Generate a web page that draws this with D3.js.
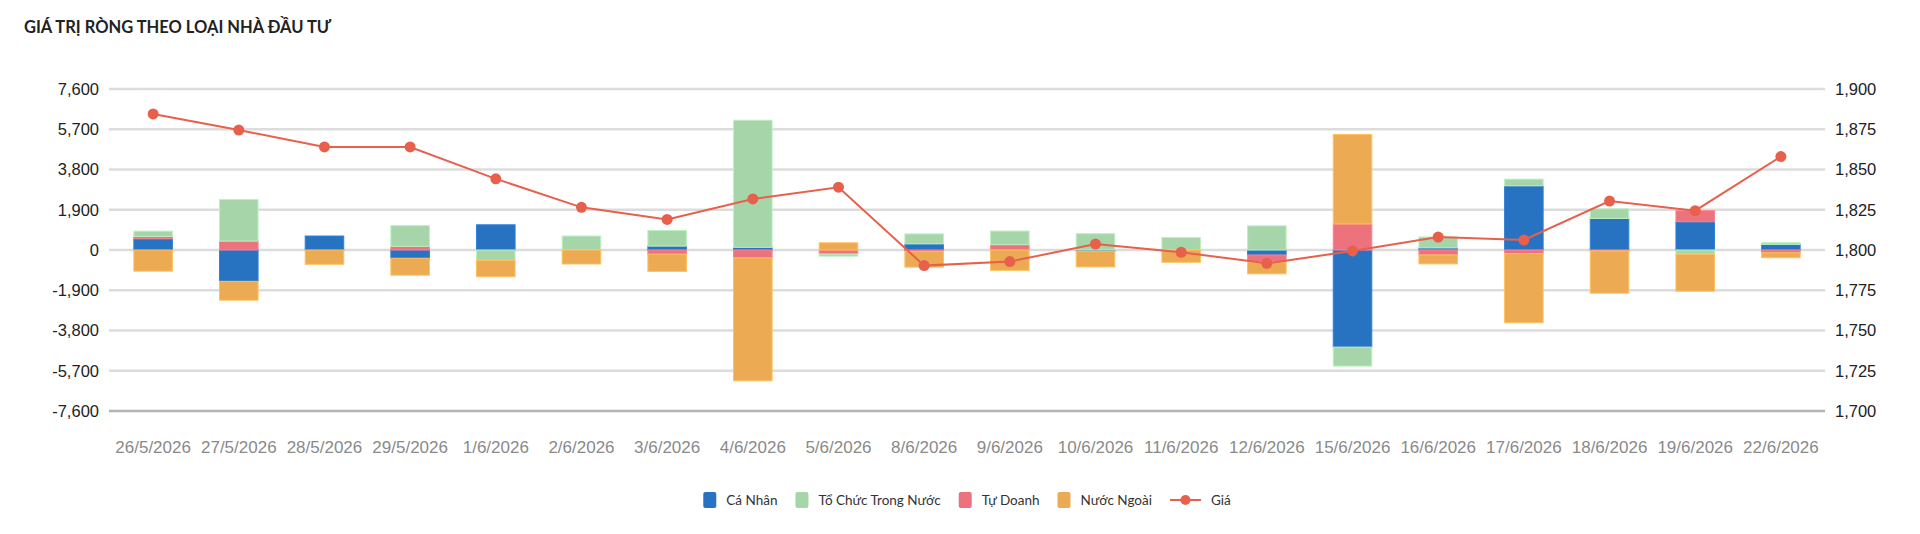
<!DOCTYPE html>
<html>
<head>
<meta charset="utf-8">
<script src="https://cdn.jsdelivr.net/npm/d3@7"></script>
<style>
  html, body { margin: 0; padding: 0; background: #fff; }
  svg { display: block; }
</style>
</head>
<body>
<svg id="chart" width="1920" height="534"></svg>
<script>
const dates = ["26/5/2026","27/5/2026","28/5/2026","29/5/2026","1/6/2026","2/6/2026","3/6/2026","4/6/2026","5/6/2026","8/6/2026","9/6/2026","10/6/2026","11/6/2026","12/6/2026","15/6/2026","16/6/2026","17/6/2026","18/6/2026","19/6/2026","22/6/2026"];
const caNhan    = [530, -1480, 660, -390, 1190, 0, 185, 125, 0, 290, 0, -60, 0, -235, -4585, 100, 3030, 1490, 1335, 265];
const toChuc    = [250, 1965, 0, 975, -490, 660, 735, 6000, -100, 470, 645, 770, 590, 1140, -895, 515, 315, 455, -200, 80];
const tuDoanh   = [110, 420, 0, 175, 0, 0, -200, -375, -190, -70, 250, 0, 0, -330, 1230, -235, -170, -45, 520, -130];
const nuocNgoai = [-1000, -890, -675, -800, -770, -660, -810, -5800, 340, -740, -960, -740, -580, -560, 4225, -420, -3265, -1995, -1745, -235];
const gia       = [1884.5, 1874.5, 1864, 1864, 1844.2, 1826.5, 1819, 1831.7, 1839, 1790.3, 1792.8, 1803.7, 1798.6, 1791.7, 1799.4, 1808, 1806.2, 1830.4, 1824.4, 1858];
const leftTicks  = [-7600, -5700, -3800, -1900, 0, 1900, 3800, 5700, 7600];
const rightTicks = [1700, 1725, 1750, 1775, 1800, 1825, 1850, 1875, 1900];

const seriesNames = ["Cá Nhân", "Tổ Chức Trong Nước", "Tự Doanh", "Nước Ngoài"];
const seriesData = { "Cá Nhân": caNhan, "Tổ Chức Trong Nước": toChuc, "Tự Doanh": tuDoanh, "Nước Ngoài": nuocNgoai };
const colors = { "Cá Nhân": "#2872c2", "Tổ Chức Trong Nước": "#a6d5aa", "Tự Doanh": "#ec727e", "Nước Ngoài": "#ecaa52" };
const lineColor = "#e8604c";
const stackOrder = ["Cá Nhân", "Tự Doanh", "Tổ Chức Trong Nước", "Nước Ngoài"];

const svg = d3.select("#chart");
const plotL = 109, plotR = 1825, plotT = 89, plotB = 411;
const fmt = d3.formatLocale({ decimal: ".", thousands: ",", grouping: [3], currency: ["", ""], minus: "-" }).format(",");

const x = d3.scaleBand().domain(dates).range([plotL, plotR]).paddingInner(0.55).paddingOuter(0.29);
const y = d3.scaleLinear().domain([-7600, 7600]).range([plotB, plotT]);
const y2 = d3.scaleLinear().domain([1700, 1900]).range([plotB, plotT]);

// title
svg.append("text").attr("x", 24).attr("y", 33)
  .attr("font-family", "Lato, 'Open Sans', sans-serif").attr("font-weight", 700)
  .attr("font-size", 16.5).attr("fill", "#222")
  .text("GIÁ TRỊ RÒNG THEO LOẠI NHÀ ĐẦU TƯ");

// gridlines
svg.append("g").selectAll("line").data(leftTicks).join("line")
  .attr("x1", plotL).attr("x2", plotR)
  .attr("y1", d => y(d)).attr("y2", d => y(d))
  .attr("stroke", d => d === -7600 ? "#b4b4b4" : "#dcdcdc")
  .attr("stroke-width", 2.5);

// left axis
const axL = svg.append("g").attr("transform", `translate(${plotL - 10},0)`)
  .call(d3.axisLeft(y).tickValues(leftTicks).tickFormat(fmt).tickSize(0).tickPadding(0));
axL.select(".domain").remove();
axL.selectAll("text").attr("font-family", "'Liberation Sans', Arial, sans-serif").attr("font-size", 16.5).attr("fill", "#222");

// right axis
const axR = svg.append("g").attr("transform", `translate(${plotR + 10},0)`)
  .call(d3.axisRight(y2).tickValues(rightTicks).tickFormat(fmt).tickSize(0).tickPadding(0));
axR.select(".domain").remove();
axR.selectAll("text").attr("font-family", "'Liberation Sans', Arial, sans-serif").attr("font-size", 16.5).attr("fill", "#222");

// x axis labels
const axX = svg.append("g").attr("transform", `translate(0,${plotB + 30})`)
  .call(d3.axisBottom(x).tickSize(0).tickPadding(0));
axX.select(".domain").remove();
axX.selectAll("text").attr("font-family", "'Liberation Sans', Arial, sans-serif").attr("font-size", 17).attr("fill", "#8a8a8a");

// stacked bars
const table = dates.map((d, i) => {
  const o = { date: d };
  seriesNames.forEach(s => o[s] = seriesData[s][i]);
  return o;
});
const stack = d3.stack().keys(stackOrder).offset(d3.stackOffsetDiverging);
const stacked = stack(table);

svg.append("g").selectAll("g").data(stacked).join("g")
  .attr("fill", s => colors[s.key])
  .attr("stroke", s => d3.color(colors[s.key]).brighter(0.35))
  .attr("stroke-width", 1)
  .selectAll("rect").data(s => s.filter(p => p[1] !== p[0])).join("rect")
  .attr("x", p => x(p.data.date))
  .attr("width", x.bandwidth())
  .attr("y", p => y(Math.max(p[0], p[1])))
  .attr("height", p => Math.abs(y(p[0]) - y(p[1])));

// price line
const cx = d => x(d) + x.bandwidth() / 2;
svg.append("path")
  .datum(dates.map((d, i) => [cx(d), y2(gia[i])]))
  .attr("fill", "none").attr("stroke", lineColor).attr("stroke-width", 2)
  .attr("d", d3.line());
svg.append("g").selectAll("circle").data(dates).join("circle")
  .attr("cx", d => cx(d)).attr("cy", (d, i) => y2(gia[i]))
  .attr("r", 5.5).attr("fill", lineColor);

// legend
const legendItems = seriesNames.map(s => ({ name: s, type: "rect", color: colors[s] })).concat([{ name: "Giá", type: "line", color: lineColor }]);
const lg = svg.append("g");
const legendFont = "Lato, 'Open Sans', sans-serif";
let cursor = 0;
const ly = 500;
const gap = 18;
legendItems.forEach((it, i) => {
  const g = lg.append("g").attr("transform", `translate(${cursor},0)`);
  let sym;
  if (it.type === "rect") {
    g.append("rect").attr("x", 0).attr("y", ly - 8).attr("width", 13).attr("height", 16).attr("rx", 2).attr("fill", it.color);
    sym = 13;
  } else {
    g.append("line").attr("x1", 0).attr("x2", 31).attr("y1", ly).attr("y2", ly).attr("stroke", it.color).attr("stroke-width", 2);
    g.append("circle").attr("cx", 15.5).attr("cy", ly).attr("r", 5).attr("fill", it.color);
    sym = 31;
  }
  const t = g.append("text").attr("x", sym + 10).attr("y", ly).attr("dy", "0.35em")
    .attr("font-family", legendFont).attr("font-size", 13.5).attr("fill", "#333").text(it.name);
  cursor += sym + 10 + t.node().getComputedTextLength() + gap;
});
const legendWidth = cursor - gap;
lg.attr("transform", `translate(${(plotL + plotR) / 2 - legendWidth / 2},0)`);
</script>
</body>
</html>
